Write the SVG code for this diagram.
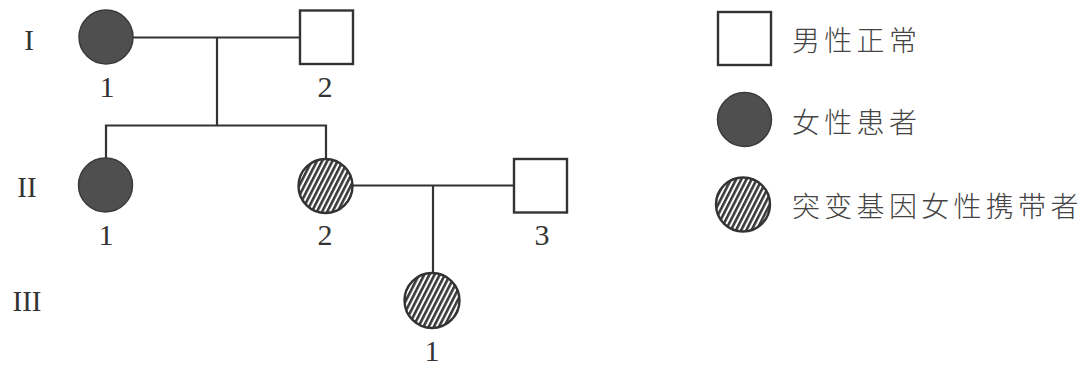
<svg xmlns="http://www.w3.org/2000/svg" width="1092" height="365" viewBox="0 0 1092 365">
<style>
.ln{stroke:#333;stroke-width:2.2;fill:none}
.male{fill:#fff;stroke:#333;stroke-width:2.4}
.aff{fill:#4f4f4f;stroke:#3a3a3a;stroke-width:1.5}
.car{fill:url(#hatch);stroke:#333;stroke-width:2.4}
.num{font-family:"Liberation Serif","Times New Roman",serif;font-size:30px;fill:#333;text-anchor:middle}
.gen{font-family:"Liberation Serif","Times New Roman",serif;font-size:29px;fill:#333;text-anchor:middle}
.leg{font-family:"Noto Sans CJK SC","Noto Sans",sans-serif;font-size:28px;font-weight:300;fill:#444;letter-spacing:4.3px}
</style>
<defs>
<pattern id="hatch" patternUnits="userSpaceOnUse" width="4.6" height="10" patternTransform="rotate(27)">
<rect x="0" y="0" width="4.6" height="10" fill="#fff"/>
<line x1="1.3" y1="0" x2="1.3" y2="10" stroke="#3a3a3a" stroke-width="2.6"/>
</pattern>
</defs>
<rect width="1092" height="365" fill="#fff"/>
<g id="connectors">
<line class="ln" x1="133" y1="37.5" x2="300" y2="37.5"/>
<line class="ln" x1="217" y1="37.5" x2="217" y2="125.5"/>
<polyline class="ln" points="106,158 106,125.5 326,125.5 326,159"/>
<line class="ln" x1="353" y1="185.5" x2="514" y2="185.5"/>
<line class="ln" x1="433" y1="185.5" x2="433" y2="273"/>
</g>
<g id="gen-labels">
<text class="gen" x="29" y="50">I</text>
<text class="gen" x="27" y="197">II</text>
<text class="gen" x="27" y="311">III</text>
</g>
<g id="I-1"><circle class="aff" cx="106" cy="37" r="27"/><text class="num" x="107" y="97">1</text></g>
<g id="I-2"><rect class="male" x="300" y="10.5" width="53" height="53.5"/><text class="num" x="325" y="97">2</text></g>
<g id="II-1"><circle class="aff" cx="105.5" cy="185" r="27"/><text class="num" x="106" y="245">1</text></g>
<g id="II-2"><circle class="car" cx="325.5" cy="186" r="27"/><text class="num" x="325" y="245">2</text></g>
<g id="II-3"><rect class="male" x="514" y="159" width="53" height="53.5"/><text class="num" x="542" y="245">3</text></g>
<g id="III-1"><circle class="car" cx="432" cy="300.5" r="27.5"/><text class="num" x="432" y="361">1</text></g>
<g id="legend">
<g id="legend-male"><rect class="male" x="718" y="12" width="53" height="53"/><text class="leg" x="792" y="50.5">男性正常</text></g>
<g id="legend-affected"><circle class="aff" cx="744.5" cy="119.5" r="27"/><text class="leg" x="792" y="133">女性患者</text></g>
<g id="legend-carrier"><circle class="car" cx="743" cy="204.5" r="27"/><text class="leg" x="792" y="217">突变基因女性携带者</text></g>
</g>
</svg>
